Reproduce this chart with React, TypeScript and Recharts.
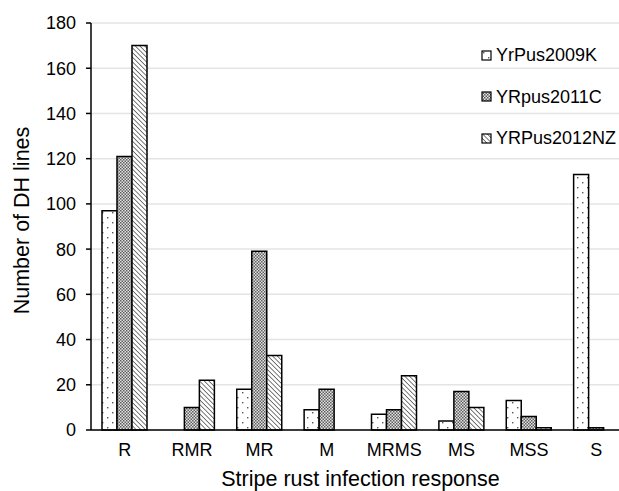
import React from 'react';
import { BarChart, Bar, XAxis, YAxis, CartesianGrid, Legend } from 'recharts';

const categories = ['R', 'RMR', 'MR', 'M', 'MRMS', 'MS', 'MSS', 'S'];
const yrPus2009K = [97, 0, 18, 9, 7, 4, 13, 113];
const yRpus2011C = [121, 10, 79, 18, 9, 17, 6, 1];
const yRPus2012NZ = [170, 22, 33, 0, 24, 10, 1, 0];
const yTicks = [0, 20, 40, 60, 80, 100, 120, 140, 160, 180];

const seriesNames = ['YrPus2009K', 'YRpus2011C', 'YRPus2012NZ'];
const seriesKeys = ['a', 'b', 'c'];
const patternIds = ['dots', 'checker', 'hatch'];

const data = categories.map((cat, i) => ({
  cat,
  a: yrPus2009K[i],
  b: yRpus2011C[i],
  c: yRPus2012NZ[i],
}));

const FONT = '"Liberation Sans", Arial, Helvetica, sans-serif';

const Patterns = ({ prefix }: { prefix: string }) => (
  <defs>
    <pattern id={prefix + 'dots'} patternUnits="userSpaceOnUse" width="10" height="10">
      <rect width="10" height="10" fill="#fff" />
      <rect x="2" y="2" width="1.4" height="1.4" fill="#555" />
      <rect x="7" y="7" width="1.4" height="1.4" fill="#555" />
    </pattern>
    <pattern id={prefix + 'checker'} patternUnits="userSpaceOnUse" width="3" height="3">
      <rect width="3" height="3" fill="#e2e2e2" />
      <rect x="0" y="0" width="1.5" height="1.5" fill="#5e5e5e" />
      <rect x="1.5" y="1.5" width="1.5" height="1.5" fill="#5e5e5e" />
    </pattern>
    <pattern id={prefix + 'hatch'} patternUnits="userSpaceOnUse" width="3.3" height="3.3" patternTransform="rotate(-45)">
      <rect width="3.3" height="3.3" fill="#fff" />
      <line x1="0" y1="0" x2="0" y2="3.3" stroke="#222" strokeWidth="1.2" />
    </pattern>
  </defs>
);

const renderLegend = () => (
  <div style={{ fontFamily: FONT, fontSize: 18, color: '#000' }}>
    {seriesNames.map((name, i) => (
      <div key={name} style={{ height: 41.5, display: 'flex', alignItems: 'center' }}>
        <svg width={12} height={12} style={{ marginRight: 3 }}>
          <Patterns prefix={'lg' + i} />
          <rect x={1} y={1} width={9} height={9} fill={`url(#lg${i}${patternIds[i]})`} stroke="#000" strokeWidth={1.2} />
        </svg>
        <span>{name}</span>
      </div>
    ))}
  </div>
);

export default function App() {
  return (
    <div
      style={{
        position: 'absolute',
        left: 0,
        top: 0,
        width: 619,
        height: 491,
        overflow: 'hidden',
        background: '#fff',
        fontFamily: FONT,
      }}
    >
      <BarChart
        width={640}
        height={491}
        data={data}
        margin={{ top: 23, right: 10, left: 0, bottom: 0 }}
        barCategoryGap={11}
        barGap={0}
        style={{ fontFamily: FONT }}
      >
        <Patterns prefix="" />
        <CartesianGrid vertical={false} stroke="#e4e4e4" strokeWidth={1.5} />
        <XAxis
          dataKey="cat"
          height={61}
          tickLine={false}
          axisLine={{ stroke: '#000', strokeWidth: 1.5 }}
          tick={{ fontSize: 18, fill: '#000' }}
          tickMargin={7}
          interval={0}
          label={{
            value: 'Stripe rust infection response',
            position: 'insideBottom',
            offset: 5,
            fontSize: 21.5,
            fill: '#000',
          }}
        />
        <YAxis
          width={91}
          domain={[0, 180]}
          ticks={yTicks}
          interval={0}
          tickSize={5}
          tickMargin={10}
          axisLine={{ stroke: '#000', strokeWidth: 1.5 }}
          tickLine={{ stroke: '#000', strokeWidth: 1.5 }}
          tick={{ fontSize: 18, fill: '#000' }}
          label={(props: any) => {
            const vb = props.viewBox || { x: 0, y: 23, width: 91, height: 407 };
            const x = vb.x + 29;
            const y = vb.y + vb.height / 2 - 6;
            return (
              <text
                x={x}
                y={y}
                transform={`rotate(-90, ${x}, ${y})`}
                textAnchor="middle"
                fontSize={21.5}
                fill="#000"
                fontFamily={FONT}
              >
                Number of DH lines
              </text>
            );
          }}
        />
        <Legend
          layout="vertical"
          align="center"
          verticalAlign="middle"
          content={renderLegend}
          wrapperStyle={{ left: 481, top: 35, width: 'auto', height: 'auto' }}
        />
        {seriesKeys.map((k, i) => (
          <Bar
            key={k}
            dataKey={k}
            name={seriesNames[i]}
            fill={`url(#${patternIds[i]})`}
            stroke="#000"
            strokeWidth={1.5}
            isAnimationActive={false}
          />
        ))}
      </BarChart>
    </div>
  );
}
